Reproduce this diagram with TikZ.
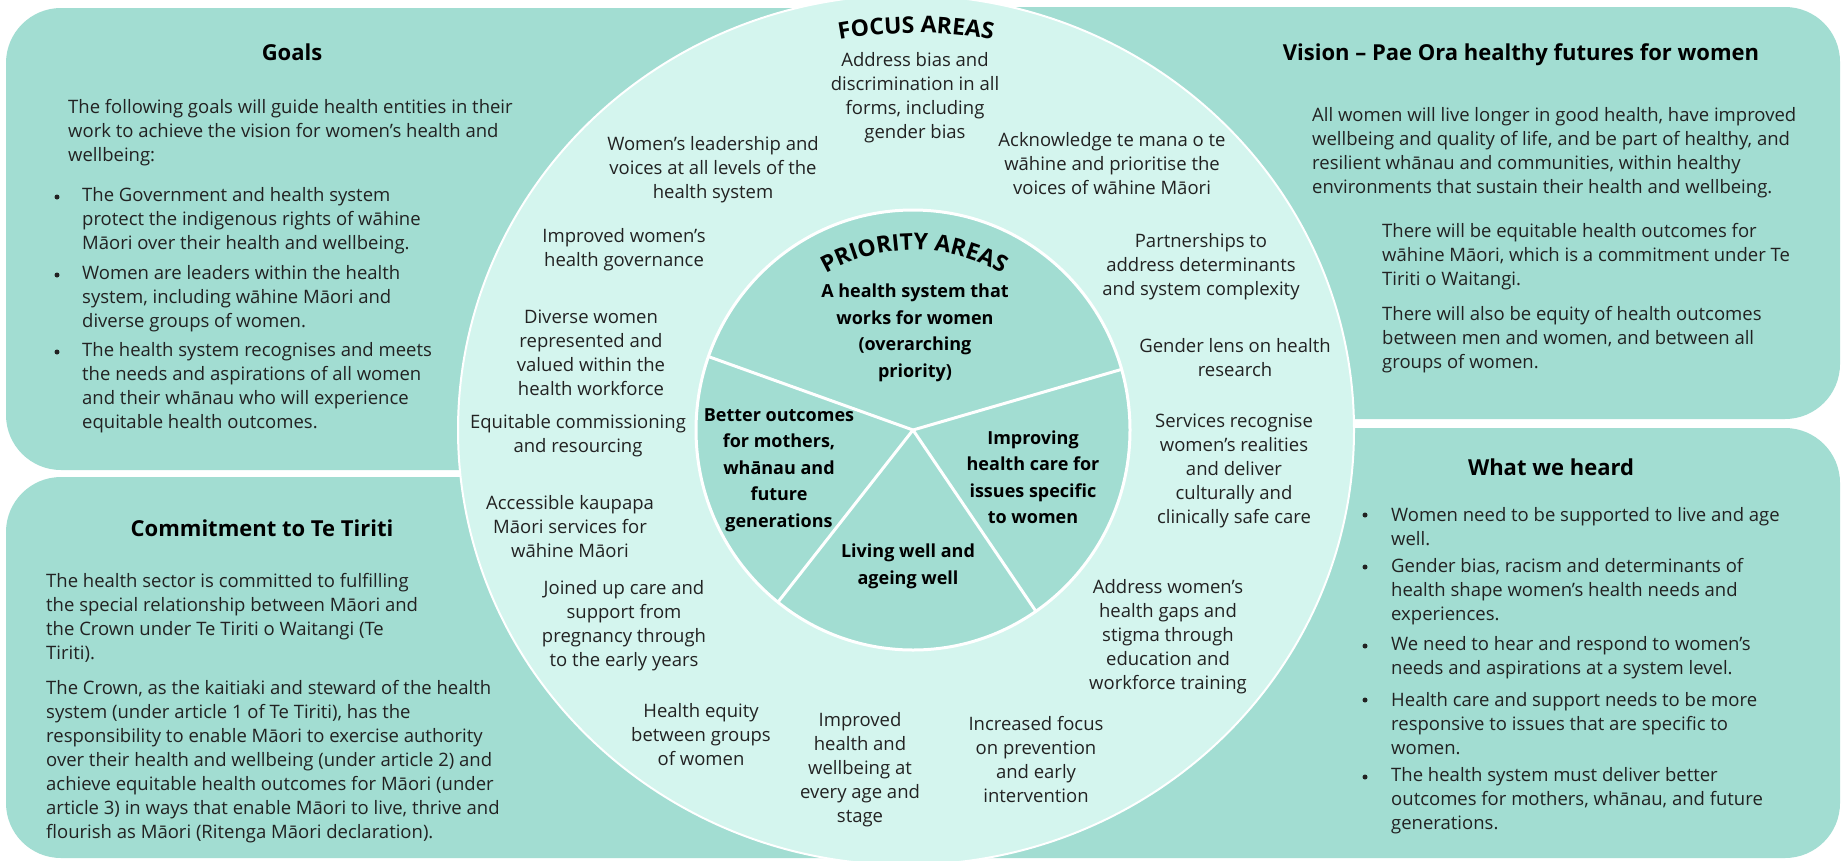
\documentclass[tikz,border=0pt]{standalone}
\usepackage{fontspec}
\setmainfont{Open Sans}
\usetikzlibrary{decorations.text,calc}
\definecolor{boxteal}{HTML}{A2DDD2}
\definecolor{ringteal}{HTML}{D4F5EE}
\definecolor{txt}{HTML}{222222}
\begin{document}
\begin{tikzpicture}[x=1pt,y=-1pt,
  panel/.style={fill=boxteal, rounded corners=55pt},
  heading/.style={font=\bfseries\fontsize{22}{26}\selectfont, text=black, inner sep=0},
  body/.style={font=\fontsize{18.5}{24}\selectfont, text=txt, inner sep=0, align=left, anchor=west},
  ringlbl/.style={font=\fontsize{18.5}{24}\selectfont, text=txt, inner sep=0, align=center},
  prio/.style={font=\bfseries\fontsize{18}{26.5}\selectfont, text=black, inner sep=0, align=center},
  bulletdot/.style={circle, fill=txt, inner sep=0, minimum size=5pt},
  divider/.style={draw=white, line width=3pt},
]
\useasboundingbox (0,0) rectangle (1843,860);
\fill[white] (0,0) rectangle (1843,860);

% panels
\path[panel] (6,8) rectangle (906,470);
\path[panel] (6,477) rectangle (906,858);
\path[panel] (906,7) rectangle (1840,419);
\path[panel] (906,428) rectangle (1840,858);

% circles
\coordinate (oc) at (906,430);
\coordinate (ic) at (913,430);
\draw[white, line width=2pt, fill=ringteal] (oc) ellipse [x radius=448, y radius=435];
\draw[white, line width=3pt, fill=boxteal] (ic) ellipse [x radius=217, y radius=220];
\coordinate (dUL) at ($(ic)+(-160.5:217 and 220)$);
\coordinate (dUR) at ($(ic)+(-16:217 and 220)$);
\coordinate (dLL) at ($(ic)+(128.5:217 and 220)$);
\coordinate (dLR) at ($(ic)+(55.5:217 and 220)$);
\draw[divider] (ic) -- (dUL);
\draw[divider] (ic) -- (dUR);
\draw[divider] (ic) -- (dLL);
\draw[divider] (ic) -- (dLR);

% curved titles
\coordinate (fc) at (916,430);
\path[decorate, decoration={text along path, text align=center,
  text={|\bfseries\fontsize{23}{23}\selectfont|FOCUS AREAS}}]
  ($(fc)+(-150:410 and 397)$) arc[start angle=-150, end angle=-30, x radius=410, y radius=397];
\coordinate (pc) at (914,430);
\path[decorate, decoration={text along path, text align=center,
  text={|\bfseries\fontsize{23}{23}\selectfont|PRIORITY AREAS}}]
  ($(pc)+(-150:178 and 180)$) arc[start angle=-150, end angle=-30, x radius=178, y radius=180];

% Goals
\node[heading] (goalsh) at (292,52) {Goals};
\node[body] (goalsp) at (68,132.5) {The following goals will guide health entities in their\\work to achieve the vision for women’s health and\\wellbeing:};
\node[bulletdot] (gb1) at (57,197) {};
\node[body] (g1) at (82,221) {The Government and health system\\protect the indigenous rights of wāhine\\Māori over their health and wellbeing.};
\node[bulletdot] (gb2) at (57,275) {};
\node[body] (g2) at (82,298.5) {Women are leaders within the health\\system, including wāhine Māori and\\diverse groups of women.};
\node[bulletdot] (gb3) at (57,352) {};
\node[body] (g3) at (82,387.5) {The health system recognises and meets\\the needs and aspirations of all women\\and their whānau who will experience\\equitable health outcomes.};

% Commitment
\node[heading] (comh) at (262,528) {Commitment to Te Tiriti};
\node[body] (com1) at (46,617.5) {The health sector is committed to fulfilling\\the special relationship between Māori and\\the Crown under Te Tiriti o Waitangi (Te\\Tiriti).};
\node[body] (com2) at (46,761.5) {The Crown, as the kaitiaki and steward of the health\\system (under article 1 of Te Tiriti), has the\\responsibility to enable Māori to exercise authority\\over their health and wellbeing (under article 2) and\\achieve equitable health outcomes for Māori (under\\article 3) in ways that enable Māori to live, thrive and\\flourish as Māori (Ritenga Māori declaration).};

% Vision
\node[heading] (vish) at (1521,55) {Vision – Pae Ora healthy futures for women};
\node[body] (vis1) at (1312,153) {All women will live longer in good health, have improved\\wellbeing and quality of life, and be part of healthy, and\\resilient whānau and communities, within healthy\\environments that sustain their health and wellbeing.};
\node[body] (vis2) at (1382,257) {There will be equitable health outcomes for\\wāhine Māori, which is a commitment under Te\\Tiriti o Waitangi.};
\node[body] (vis3) at (1382,340) {There will also be equity of health outcomes\\between men and women, and between all\\groups of women.};

% What we heard
\node[heading] (whath) at (1551,467) {What we heard};
\node[bulletdot] (wb1) at (1365,515) {};
\node[body] (w1) at (1391,526.5) {Women need to be supported to live and age\\well.};
\node[bulletdot] (wb2) at (1365,567) {};
\node[body] (w2) at (1391,591.5) {Gender bias, racism and determinants of\\health shape women’s health needs and\\experiences.};
\node[bulletdot] (wb3) at (1365,646) {};
\node[body] (w3) at (1391,658) {We need to hear and respond to women’s\\needs and aspirations at a system level.};
\node[bulletdot] (wb4) at (1365,700) {};
\node[body] (w4) at (1391,723.5) {Health care and support needs to be more\\responsive to issues that are specific to\\women.};
\node[bulletdot] (wb5) at (1365,777) {};
\node[body] (w5) at (1391,801) {The health system must deliver better\\outcomes for mothers, whānau, and future\\generations.};

% Focus area labels
\node[ringlbl] (addr) at (915,97.5) {Address bias and\\discrimination in all\\forms, including\\gender bias};
\node[ringlbl] (lead) at (713,170) {Women’s leadership and\\voices at all levels of the\\health system};
\node[ringlbl] (gov) at (624,250) {Improved women’s\\health governance};
\node[ringlbl] (div) at (591,353) {Diverse women\\represented and\\valued within the\\health workforce};
\node[ringlbl] (equi) at (578,436) {Equitable commissioning\\and resourcing};
\node[ringlbl] (kaup) at (570,527) {Accessible kaupapa\\Māori services for\\wāhine Māori};
\node[ringlbl] (join) at (624,626) {Joined up care and\\support from\\pregnancy through\\to the early years};
\node[ringlbl] (heq) at (701,735) {Health equity\\between groups\\of women};
\node[ringlbl] (impr) at (860,769.5) {Improved\\health and\\wellbeing at\\every age and\\stage};
\node[ringlbl] (incr) at (1036,759) {Increased focus\\on prevention\\and early\\intervention};
\node[ringlbl] (gaps) at (1168,637) {Address women’s\\health gaps and\\stigma through\\education and\\workforce training};
\node[ringlbl] (serv) at (1234,471) {Services recognise\\women’s realities\\and deliver\\culturally and\\clinically safe care};
\node[ringlbl] (gend) at (1235,357.5) {Gender lens on health\\research};
\node[ringlbl] (part) at (1201,267) {Partnerships to\\address determinants\\and system complexity};
\node[ringlbl] (ackn) at (1112,164) {Acknowledge te mana o te\\wāhine and prioritise the\\voices of wāhine Māori};

% Priority labels
\node[prio] (hs) at (915,333) {A health system that\\works for women\\(overarching\\priority)};
\node[prio] (better) at (779,470) {Better outcomes\\for mothers,\\whānau and\\future\\generations};
\node[prio] (living) at (908,566.5) {Living well and\\ageing well};
\node[prio] (improving) at (1033,477) {Improving\\health care for\\issues specific\\to women};
\end{tikzpicture}
\end{document}
